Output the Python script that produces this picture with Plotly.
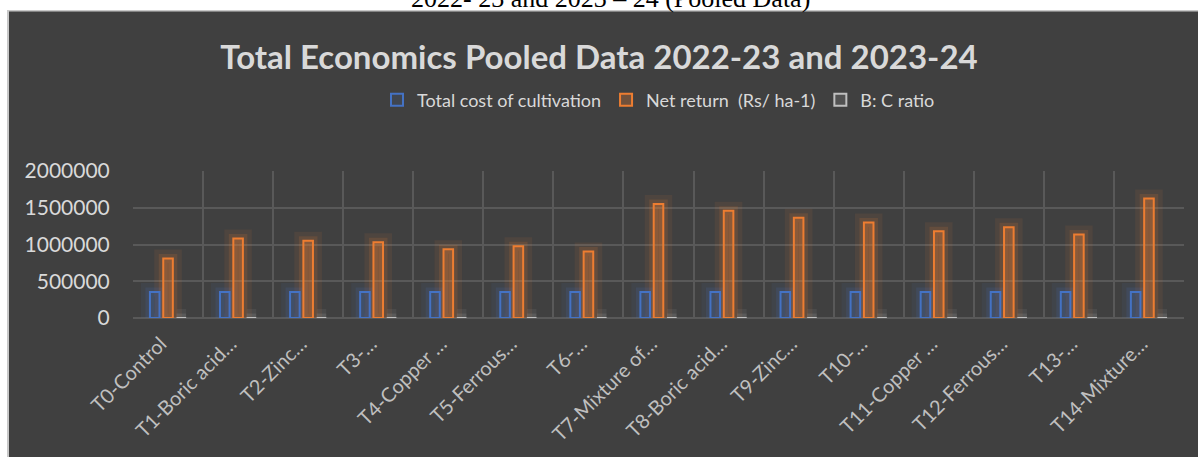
import plotly.graph_objects as go

categories = ["T0-Control", "T1-Boric acid…", "T2-Zinc…", "T3-…", "T4-Copper …",
              "T5-Ferrous…", "T6-…", "T7-Mixture of…", "T8-Boric acid…", "T9-Zinc…",
              "T10-…", "T11-Copper …", "T12-Ferrous…", "T13-…", "T14-Mixture…"]
total_cost = [355000, 355000, 355000, 355000, 355000, 355000, 355000, 355000,
              355000, 355000, 355000, 355000, 355000, 355000, 355000]
net_return = [810000, 1080000, 1050000, 1030000, 935000, 975000, 905000, 1550000,
              1460000, 1365000, 1300000, 1180000, 1235000, 1135000, 1625000]
bc_ratio = [3.28, 4.04, 3.96, 3.90, 3.63, 3.75, 3.55, 5.37, 5.11, 4.85, 4.66, 4.32,
            4.48, 4.20, 5.58]
series_names = ["Total cost of cultivation", "Net return  (Rs/ ha-1)", "B: C ratio"]
y_ticks = [0, 500000, 1000000, 1500000, 2000000]

colors_rgb = [(68, 114, 196), (237, 125, 49), (191, 191, 191)]
fill_alpha = [0.12, 0.28, 0.15]
series_vals = [total_cost, net_return, bc_ratio]

fig = go.Figure()

# glow layers (wide, then narrow), then the real bars on top
layers = [("x", "y", 18, 0.08), ("x2", "y2", 9, 0.14)]
for xa, ya, w, a in layers:
    for vals, (r, g, b) in zip(series_vals, colors_rgb):
        fig.add_trace(go.Bar(
            x=categories, y=vals, xaxis=xa, yaxis=ya, showlegend=False,
            hoverinfo="skip",
            marker=dict(color="rgba(0,0,0,0)",
                        line=dict(color=f"rgba({r},{g},{b},{a})", width=w)),
        ))

for name, vals, (r, g, b), fa in zip(series_names, series_vals, colors_rgb, fill_alpha):
    fig.add_trace(go.Bar(
        name=name, x=categories, y=vals, xaxis="x3", yaxis="y3",
        marker=dict(color=f"rgba({r},{g},{b},{fa})",
                    line=dict(color=f"rgb({r},{g},{b})", width=2)),
    ))

L, R, T, B = 133, 14, 171, 139
W, H = 1198, 457
pw = W - L - R
ph = H - T - B

def px_x(p):
    return (p - L) / pw

def px_y(p):
    return (H - B - p) / ph

shapes = [
    dict(type="rect", xref="paper", yref="paper", layer="below",
         x0=px_x(7), x1=px_x(1200), y0=px_y(10), y1=px_y(460),
         fillcolor="#c8c8c8", line=dict(width=0)),
    dict(type="rect", xref="paper", yref="paper", layer="below",
         x0=px_x(9), x1=px_x(1200), y0=px_y(11.5), y1=px_y(460),
         fillcolor="#404040", line=dict(width=0)),
]

# trailing no-break spaces nudge the rotated label ends toward the category centre
tick_text = [c + "\u00a0\u00a0" for c in categories]

grid = "#595959"
axis_font = dict(family="Lato", size=21, color="#d9d9d9")
fig.update_layout(
    width=W, height=H,
    margin=dict(l=L, r=R, t=T, b=B, autoexpand=False),
    paper_bgcolor="white",
    plot_bgcolor="rgba(0,0,0,0)",
    barmode="group", bargap=0.43, bargroupgap=0.28,
    shapes=shapes,
    title=dict(text="<b>Total Economics Pooled Data 2022-23 and 2023-24</b>",
               x=0.5, xref="container", xanchor="center",
               y=1 - 57 / H, yref="container", yanchor="middle",
               font=dict(family="Lato", size=33, color="#d9d9d9")),
    legend=dict(orientation="h", x=0.5, xanchor="center", y=px_y(100), yanchor="middle",
                font=dict(family="Lato", size=18, color="#d9d9d9"),
                bgcolor="rgba(0,0,0,0)", traceorder="normal"),
    xaxis=dict(type="category", categoryorder="array", categoryarray=categories,
               tickmode="array", tickvals=categories, ticktext=tick_text,
               tickson="boundaries", showgrid=True, gridcolor=grid, gridwidth=1.5,
               ticks="", ticklabelstandoff=2, tickangle=-45, automargin=False,
               tickfont=dict(family="Lato", size=20, color="#bfbfbf"),
               showline=False, zeroline=False),
    yaxis=dict(range=[0, 2000000], tickvals=y_ticks, tickformat="d", automargin=False,
               showgrid=True, gridcolor=grid, gridwidth=1.5,
               zeroline=True, zerolinecolor=grid, zerolinewidth=1.5,
               tickfont=axis_font, ticks="outside", ticklen=18, tickcolor="rgba(0,0,0,0)"),
    xaxis2=dict(overlaying="x", matches="x", visible=False, type="category"),
    yaxis2=dict(overlaying="y", matches="y", visible=False),
    xaxis3=dict(overlaying="x", matches="x", visible=False, type="category"),
    yaxis3=dict(overlaying="y", matches="y", visible=False),
    annotations=[dict(text="2022- 23 and 2023 – 24 (Pooled Data)", xref="paper", yref="paper",
                      x=px_x(610), y=px_y(15), xanchor="center", yanchor="bottom",
                      showarrow=False,
                      font=dict(family="Liberation Serif", size=26, color="black"))],
)

fig.write_html("out.html", config={"displayModeBar": False},
               post_script="document.body.style.margin='0';document.body.style.overflow='hidden';")
